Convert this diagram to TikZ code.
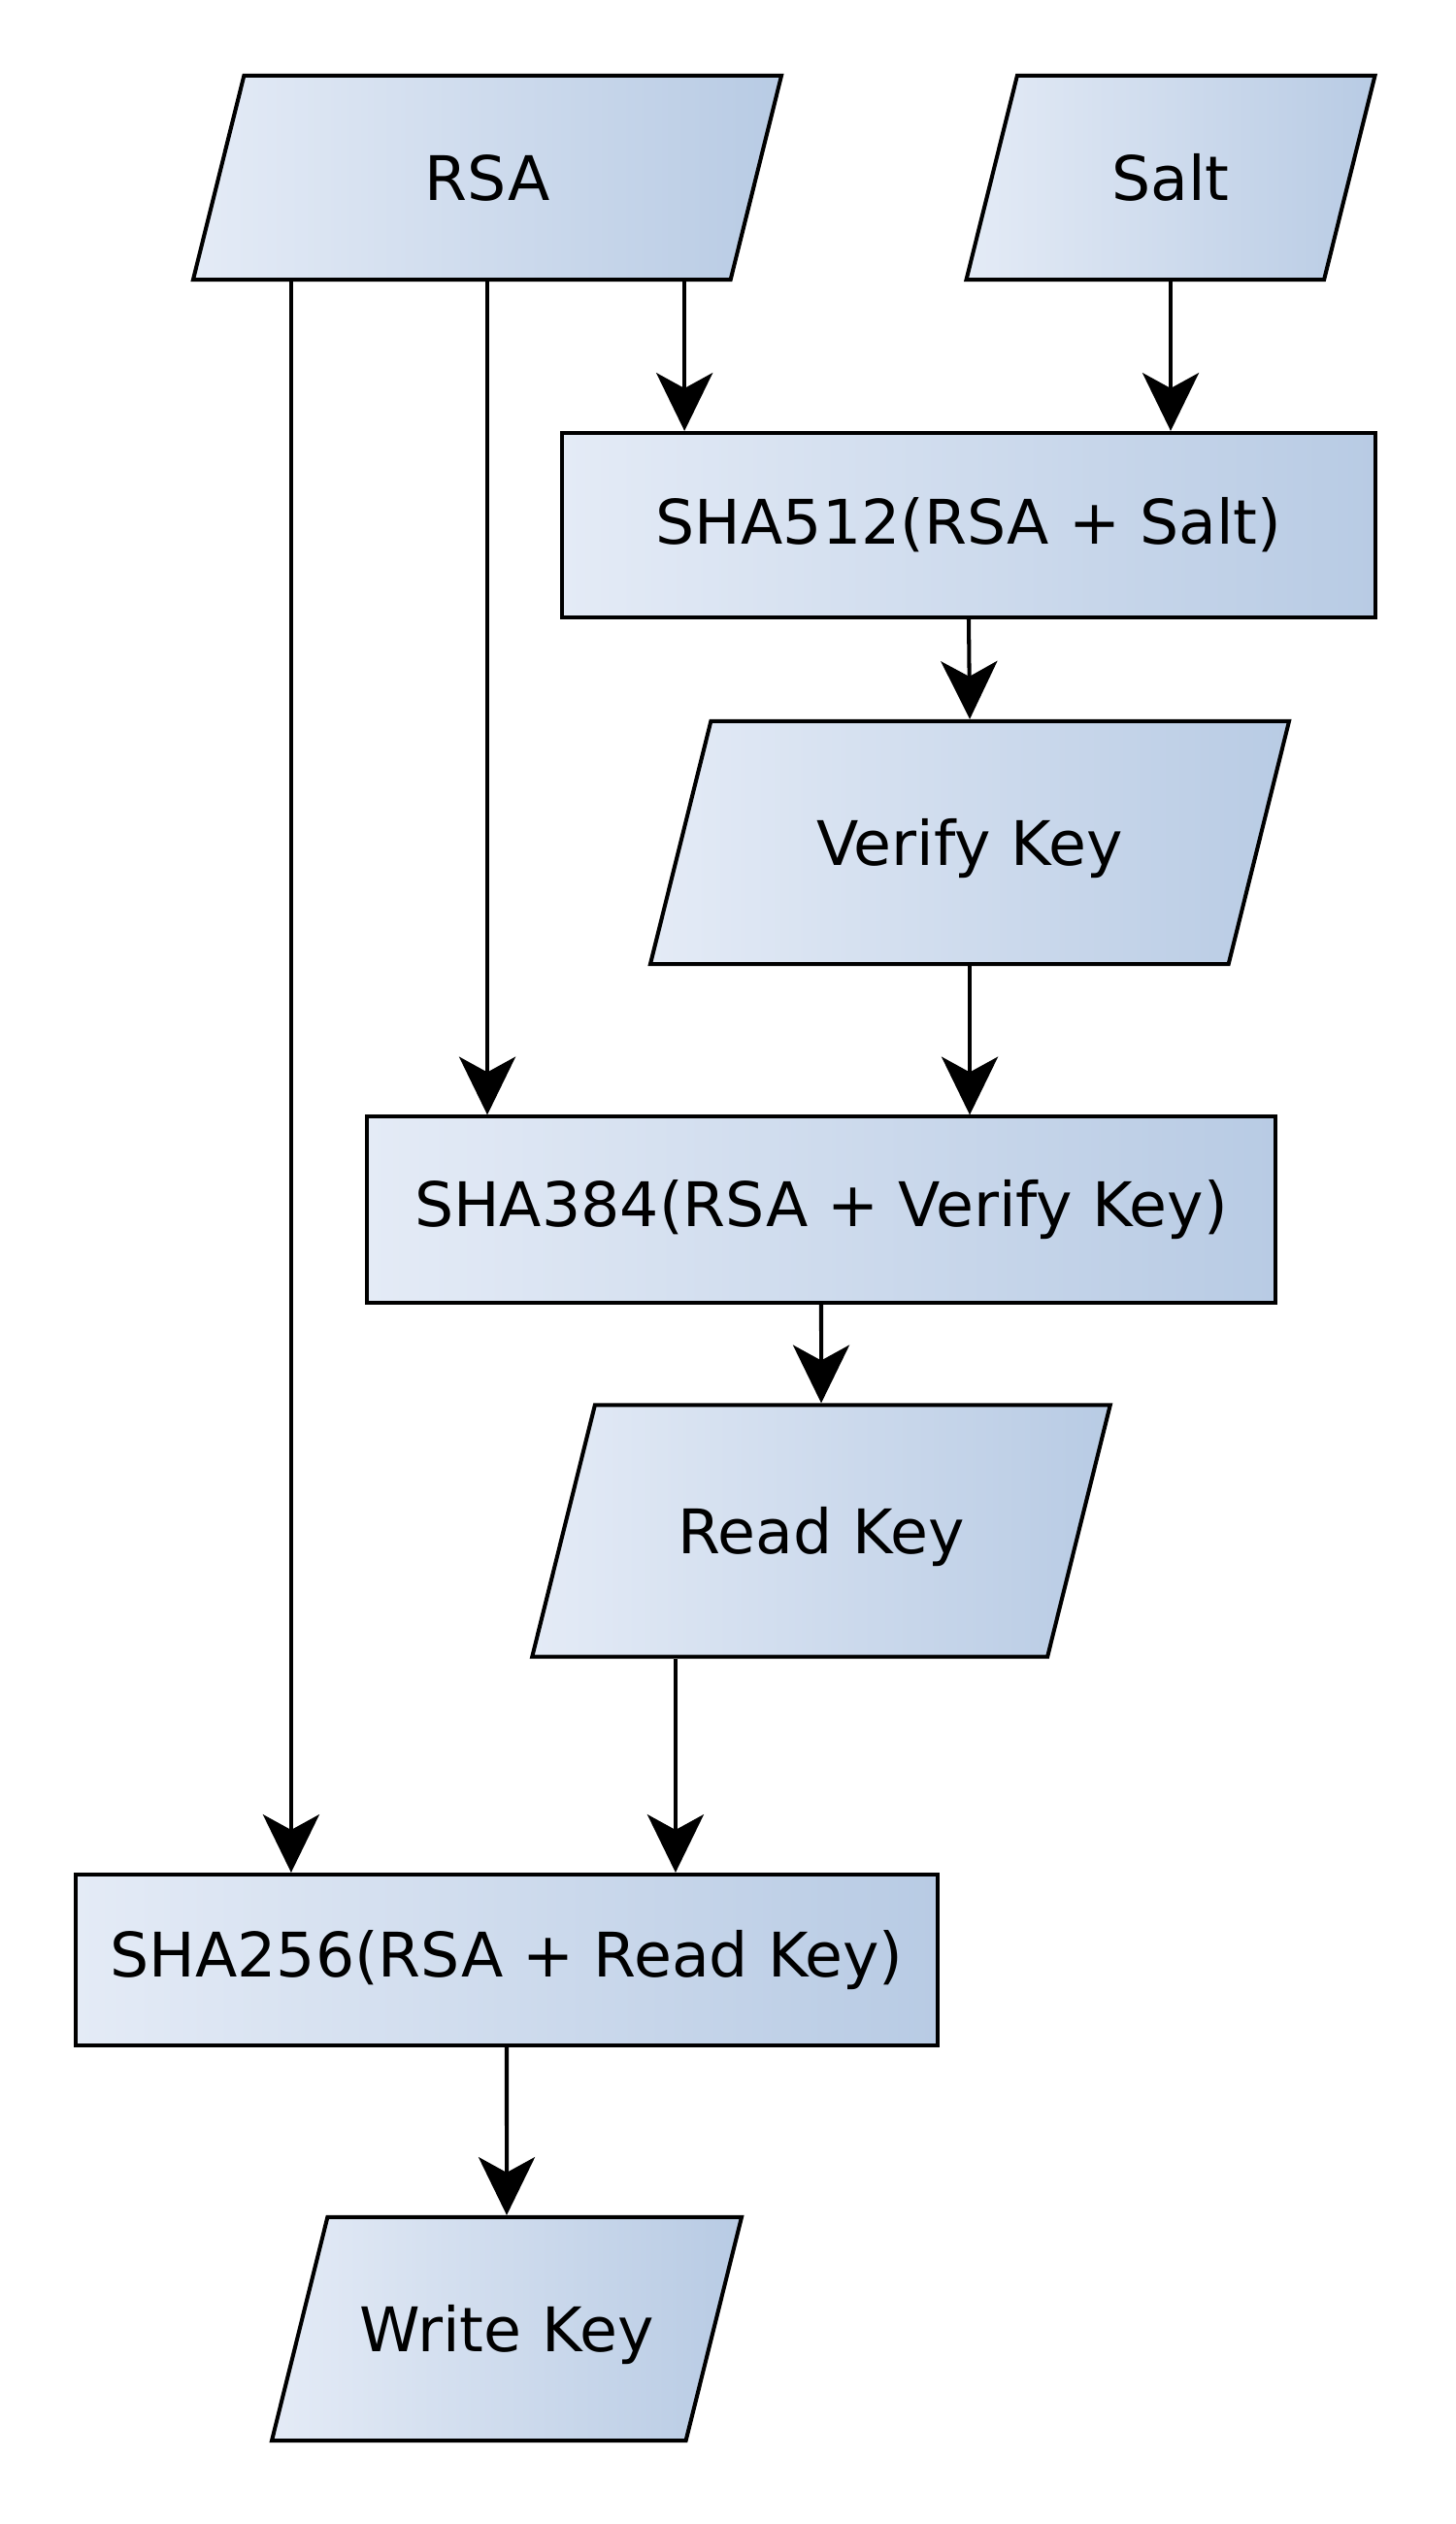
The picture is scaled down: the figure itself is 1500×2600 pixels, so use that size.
\documentclass[tikz,border=0pt]{standalone}
\usepackage{fontspec}
\setmainfont{DejaVu Sans}
\usepackage{xcolor}
\usetikzlibrary{shapes.geometric, arrows.meta}

\definecolor{boxlight}{HTML}{E4EBF6}
\definecolor{boxdark}{HTML}{B8CBE4}

\tikzset{
  box/.style={draw, line width=1.15pt, left color=boxlight, right color=boxdark, inner sep=0pt},
  hashbox/.style={box, rectangle},
  keybox/.style={box, trapezium, trapezium left angle=76, trapezium right angle=104, align=center},
  flow/.style={-{Stealth[length=17pt, width=16.5pt, inset=4.5pt]}, line width=1.15pt},
}

\begin{document}
\begin{tikzpicture}[x=0.01cm, y=-0.01cm, font=\fontsize{18}{22}\selectfont]
  \useasboundingbox (0,0) rectangle (1500,2600);
  % === Inndata ===
  \node[keybox, text width=5.01cm, text height=1.28cm, text depth=0.82cm] (rsa) at (502,183) {RSA};
  \node[keybox, text width=3.16cm, text height=1.28cm, text depth=0.82cm] (salt) at (1206,183) {Salt};
  % === Hash-trinn ===
  \node[hashbox, minimum width=8.37cm, minimum height=1.90cm] (sha512) at (998,541) {SHA512(RSA + Salt)};
  \node[keybox, text width=5.33cm, text height=1.48cm, text depth=1.02cm] (verify) at (999,868) {Verify Key};
  \node[hashbox, minimum width=9.35cm, minimum height=1.91cm] (sha384) at (846,1246) {SHA384(RSA + Verify Key)};
  \node[keybox, text width=4.66cm, text height=1.526cm, text depth=1.064cm] (read) at (846,1577) {Read Key};
  \node[hashbox, minimum width=8.88cm, minimum height=1.76cm] (sha256) at (522,2019) {SHA256(RSA + Read Key)};
  \node[keybox, text width=3.69cm, text height=1.38cm, text depth=0.92cm] (write) at (522,2399) {Write Key};
  % === Piler ===
  \draw[flow] ([xshift=-2.02cm]rsa.south) -- ([xshift=-2.02cm]rsa.south |- sha256.north);
  \draw[flow] (rsa.south) -- (rsa.south |- sha384.north);
  \draw[flow] ([xshift=2.03cm]rsa.south) -- ([xshift=2.03cm]rsa.south |- sha512.north);
  \draw[flow] (salt.south) -- (salt.south |- sha512.north);
  \draw[flow] (sha512.south) -- (verify.north);
  \draw[flow] (verify.south) -- (verify.south |- sha384.north);
  \draw[flow] (sha384.south) -- (read.north);
  \draw[flow] ([xshift=-1.5cm]read.south) -- ([xshift=-1.5cm]read.south |- sha256.north);
  \draw[flow] (sha256.south) -- (write.north);
\end{tikzpicture}
\end{document}
